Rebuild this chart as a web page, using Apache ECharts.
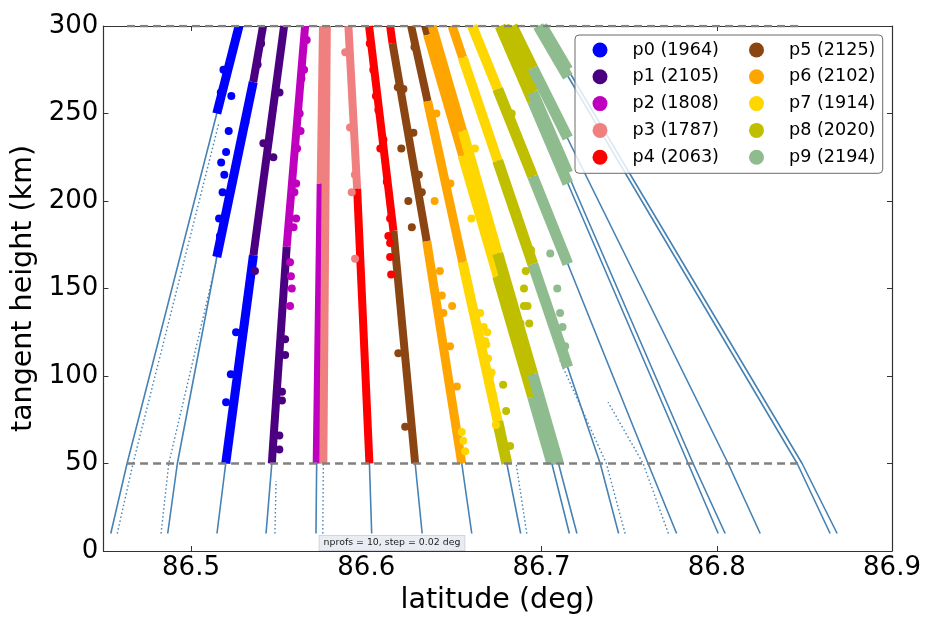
<!DOCTYPE html>
<html><head><meta charset="utf-8">
<script src="https://cdn.jsdelivr.net/npm/echarts@6/dist/echarts.min.js"></script>
<style>html,body{margin:0;padding:0;background:#fff}#c{width:927px;height:618px}</style>
</head><body><div id="c"></div>
<script>
// ---------- data (latitude deg, tangent height km) ----------
const profileNames = ['p0 (1964)','p1 (2105)','p2 (1808)','p3 (1787)','p4 (2063)','p5 (2125)','p6 (2102)','p7 (1914)','p8 (2020)','p9 (2194)'];
const xTicks = [86.5,86.6,86.7,86.8,86.9];
const cutHeight = 50;
const topHeight = 300;
const dashExtent = [86.4635, 86.8487];

// tangent-point tracks (dense = solid lines)
const trackA  = [[86.4542,10],[86.4635,50],[86.5147,250],[86.5274,300]];
const trackB2 = [[86.4867,10],[86.4922,50],[86.5147,168],[86.5360,270],[86.5411,300]];
const trackC  = [[86.5148,10],[86.5198,50],[86.5356,169],[86.5531,300]];
const trackD  = [[86.5428,10],[86.5461,50],[86.5546,174],[86.5651,300]];
const trackE  = [[86.5713,10],[86.5717,50],[86.5740,210],[86.5753,300]];
const trackF  = [[86.6031,10],[86.6018,50],[86.5948,207],[86.5898,300]];
const trackG  = [[86.6319,10],[86.6279,50],[86.6155,183],[86.6016,300]];
const trackH  = [[86.6602,10],[86.6545,50],[86.6345,177],[86.6136,300]];
const trackI  = [[86.6881,10],[86.6802,50],[86.6256,300]];
const trackJ2 = [[86.7159,10],[86.7059,50],[86.6336,300]];
const trackJ  = [[86.7202,10],[86.7097,50],[86.6376,300]];
const trackK  = [[86.7440,10],[86.7335,50],[86.6490,300]];
const trackL  = [[86.7771,10],[86.7608,50],[86.6604,300]];
const trackM  = [[86.8008,10],[86.7837,50],[86.6764,300]];
const trackM2 = [[86.8048,10],[86.7865,50],[86.6786,300]];
const trackN  = [[86.8248,10],[86.8065,50],[86.6832,300]];
const trackO  = [[86.8647,10],[86.8459,50],[86.6981,300]];
const trackO2 = [[86.8687,10],[86.8487,50],[86.7003,300]];
// sparse tracks (dotted)
const trackA2 = [[86.4579,10],[86.4669,50],[86.5160,245]];
const trackB  = [[86.4829,10],[86.4873,50],[86.5143,165]];
const trackD2 = [[86.5479,10],[86.5485,40]];
const trackE2 = [[86.5752,10],[86.5755,50]];
const trackI2 = [[86.6916,10],[86.6855,50]];
const trackK2 = [[86.7477,10],[86.7370,50],[86.7100,110]];
const trackL2 = [[86.7724,10],[86.7580,50],[86.7380,85]];

// dense parts of each profile (stretches of the tracks inside the profile's 0.02 deg bin)
const p0Segs = [[[86.5147,250],[86.5274,300]], [[86.5147,168],[86.5355,268]], [[86.5198,50],[86.5356,169]]];
const p1Segs = [[[86.5355,268],[86.5411,300]], [[86.5356,169],[86.5531,300]], [[86.5461,50],[86.5546,174]]];
const p2Segs = [[[86.5546,174],[86.5651,300]], [[86.5717,50],[86.5740,210]]];
const p3Segs = [[[86.5740,210],[86.5753,300]], [[86.5755,50],[86.5775,300]], [[86.5948,207],[86.5898,300]]];
const p4Segs = [[[86.6018,50],[86.5948,207]], [[86.6155,183],[86.6016,300]], [[86.6150,290],[86.6136,300]]];
const p5Segs = [[[86.6279,50],[86.6155,183]], [[86.6345,177],[86.6150,290]], [[86.6350,257],[86.6256,300]], [[86.6350,295],[86.6336,300]]];
const p6Segs = [[[86.6545,50],[86.6345,177]], [[86.6550,165],[86.6350,257]], [[86.6550,226],[86.6350,295]], [[86.6550,240],[86.6376,300]], [[86.6550,282],[86.6490,300]]];
const p7Segs = [[[86.6750,74],[86.6550,165]], [[86.6750,157],[86.6550,226]], [[86.6750,170],[86.6550,240]], [[86.6750,223],[86.6550,282]], [[86.6750,264],[86.6604,300]]];
const p8Segs = [[[86.6802,50],[86.6750,74]], [[86.6950,88],[86.6750,157]], [[86.6950,101],[86.6750,170]], [[86.6950,164],[86.6750,223]], [[86.6950,214],[86.6750,264]], [[86.6950,257],[86.6764,300]], [[86.6950,262],[86.6786,300]], [[86.6950,276],[86.6832,300]]];
const p9Segs = [[[86.7059,50],[86.6950,88]], [[86.7097,50],[86.6950,101]], [[86.7150,105],[86.6950,164]], [[86.7150,164],[86.6950,214]], [[86.7150,210],[86.6950,257]], [[86.7150,216],[86.6950,262]], [[86.7150,236],[86.6950,276]], [[86.7150,271],[86.6981,300]], [[86.7150,275],[86.7003,300]]];

// scattered points of each profile
const p0Pts = [[86.5257,125],[86.5227,101],[86.5200,85],[86.5180,205],[86.5172,222],[86.5230,260],[86.5165,180],[86.5310,245],
               [86.5160,190],[86.5190,215],[86.5200,228],[86.5215,240],[86.5170,262],[86.5185,275]];
const p1Pts = [[86.5504,66],[86.5504,58],[86.5519,91],[86.5519,86],[86.5537,112],[86.5537,121],[86.5365,160],[86.5413,233],[86.5400,290],[86.5470,225],
               [86.5380,278],[86.5505,262]];
const p2Pts = [[86.5565,165],[86.5575,150],[86.5565,140],[86.5570,157],[86.5605,230],[86.5630,270],[86.5620,250],[86.5590,205],[86.5660,292],[86.5600,190],
               [86.5600,210],[86.5625,240],[86.5645,275],[86.5585,185]];
const p3Pts = [[86.5917,205],[86.5936,167],[86.5907,242],[86.5880,285],[86.5765,215],[86.5935,215]];
const p4Pts = [[86.6136,176],[86.6142,158],[86.6136,168],[86.6126,180],[86.6055,260],[86.6080,230],[86.6040,275],
               [86.6069,252],[86.6098,235],[86.6117,211],[86.6136,190],[86.6020,290]];
const p5Pts = [[86.6183,113],[86.6222,71],[86.6200,230],[86.6240,200],[86.6260,185],[86.6180,265],
               [86.6212,264],[86.6269,239],[86.6317,205],[86.6300,215],[86.6275,288]];
const p6Pts = [[86.6517,94],[86.6478,117],[86.6490,140],[86.6420,160],[86.6390,200],[86.6431,146],[86.6440,136],[86.6480,210],[86.6400,250]];
const p7Pts = [[86.6545,68],[86.6553,63],[86.6564,57],[86.6678,120],[86.6707,100],[86.6695,110],[86.6690,125],[86.6720,90],
               [86.6650,136],[86.6670,128],[86.6685,118],[86.6715,102],[86.6735,80],[86.6740,72],[86.6600,190],[86.6620,230]];
const p8Pts = [[86.6821,60],[86.6798,80],[86.6781,95],[86.6880,130],[86.6900,140],[86.6860,190],
               [86.6900,150],[86.6920,140],[86.6930,130],[86.6910,160],[86.6940,172],[86.6830,250]];
const p9Pts = [[86.7106,136],[86.7135,117],[86.7050,170],[86.7010,245],[86.7120,128],[86.7090,150]];

// ---------- styles ----------
const FONT = 'DejaVu Sans';
const profileColors = ['#0000ff','#4b0082','#bf00bf','#f08080','#ff0000','#8b4513','#ffa500','#ffd700','#bfbf00','#8fbc8f'];
const bandWidths = [9,8,8,8,8,8,9,10,11,11];

const solidTracks = [trackA,trackB2,trackC,trackD,trackE,trackF,trackG,trackH,trackI,trackJ2,trackJ,trackK,trackL,trackM,trackM2,trackN,trackO,trackO2];
const dottedTracks = [trackA2,trackB,trackD2,trackE2,trackI2,trackK2,trackL2];
const profileSegs = [p0Segs,p1Segs,p2Segs,p3Segs,p4Segs,p5Segs,p6Segs,p7Segs,p8Segs,p9Segs];
const profilePts = [p0Pts,p1Pts,p2Pts,p3Pts,p4Pts,p5Pts,p6Pts,p7Pts,p8Pts,p9Pts];

const series = [];
solidTracks.forEach(t => series.push({type:'line', data:t, showSymbol:false, symbol:'none', silent:true, z:2,
  lineStyle:{color:'#4682b4', width:1.6}}));
dottedTracks.forEach(t => series.push({type:'line', data:t, showSymbol:false, symbol:'none', silent:true, z:2,
  lineStyle:{color:'#4682b4', width:1.4, type:[1.5,2.5]}}));
profileSegs.forEach((segs,i) => segs.forEach(s => series.push({type:'line', data:s, showSymbol:false, symbol:'none',
  silent:true, z:3, lineStyle:{color:profileColors[i], width:bandWidths[i], cap:'butt'}})));
profileNames.forEach((n,i) => series.push({type:'scatter', name:n, data:profilePts[i], symbolSize:8, z:4,
  itemStyle:{color:profileColors[i], opacity:1}}));
[cutHeight, topHeight].forEach(h => series.push({type:'line', data:[[dashExtent[0],h],[dashExtent[1],h]], showSymbol:false,
  symbol:'none', silent:true, z:5, lineStyle:{color:'#808080', width:2.5, type:[8,5]}}));

const axisLineStyle = {color:'#333', width:1.2};
const option = {
  animation:false,
  backgroundColor:'#fff',
  grid:{left:103.4, right:35, top:26, bottom:67, containLabel:false, outerBoundsMode:'none'},
  xAxis:[
    {type:'value', min:86.45, max:86.9, position:'bottom',
     axisLine:{show:true, onZero:false, lineStyle:axisLineStyle},
     axisTick:{show:true, inside:true, length:5, customValues:xTicks, lineStyle:{color:'#333'}},
     axisLabel:{customValues:xTicks, formatter:v => Number(v).toFixed(1), fontFamily:FONT, fontSize:26, color:'#000', margin:4},
     splitLine:{show:false},
     name:'latitude (deg)', nameLocation:'middle', nameGap:34.5,
     nameTextStyle:{fontFamily:FONT, fontSize:28.5, color:'#000'}},
    {type:'value', min:86.45, max:86.9, position:'top',
     axisLine:{show:true, onZero:false, lineStyle:axisLineStyle},
     axisTick:{show:true, inside:true, length:5, customValues:xTicks, lineStyle:{color:'#333'}},
     axisLabel:{show:false}, splitLine:{show:false}}
  ],
  yAxis:[
    {type:'value', min:0, max:300, interval:50, position:'left',
     axisLine:{show:true, onZero:false, lineStyle:axisLineStyle},
     axisTick:{show:true, inside:true, length:5, lineStyle:{color:'#333'}},
     axisLabel:{fontFamily:FONT, fontSize:26, color:'#000', margin:5},
     splitLine:{show:false},
     name:'tangent height (km)', nameLocation:'middle', nameGap:46,
     nameTextStyle:{fontFamily:FONT, fontSize:28.5, color:'#000'}},
    {type:'value', min:0, max:300, interval:50, position:'right',
     axisLine:{show:true, onZero:false, lineStyle:axisLineStyle},
     axisTick:{show:true, inside:true, length:5, lineStyle:{color:'#333'}},
     axisLabel:{show:false}, splitLine:{show:false}}
  ],
  legend:[
    {data:profileNames.slice(0,5), orient:'vertical', left:592.5, top:41, padding:0, itemWidth:15, itemHeight:15, itemGap:8.8,
     icon:'circle', z:20, textStyle:{fontFamily:FONT, fontSize:17.6, color:'#000', padding:[0,0,0,20]}},
    {data:profileNames.slice(5), orient:'vertical', left:749, top:41, padding:0, itemWidth:15, itemHeight:15, itemGap:8.8,
     icon:'circle', z:20, textStyle:{fontFamily:FONT, fontSize:17.6, color:'#000', padding:[0,0,0,20]}}
  ],
  graphic:[
    {type:'rect', z:10, shape:{x:575, y:35, width:307.7, height:138.3, r:4},
     style:{fill:'rgba(255,255,255,0.82)', stroke:'#6b6b6b', lineWidth:1}},
    {type:'text', z:10, x:392, y:543,
     style:{text:'nprofs = 10, step = 0.02 deg', font:'9.4px "DejaVu Sans"', fill:'#222', align:'center', verticalAlign:'middle',
       backgroundColor:'#e9edf3', borderColor:'#cfd6df', borderWidth:1, padding:[3,4,2,4]}}
  ],
  series:series
};
const chart = echarts.init(document.getElementById('c'));
chart.setOption(option);
</script>
</body></html>
